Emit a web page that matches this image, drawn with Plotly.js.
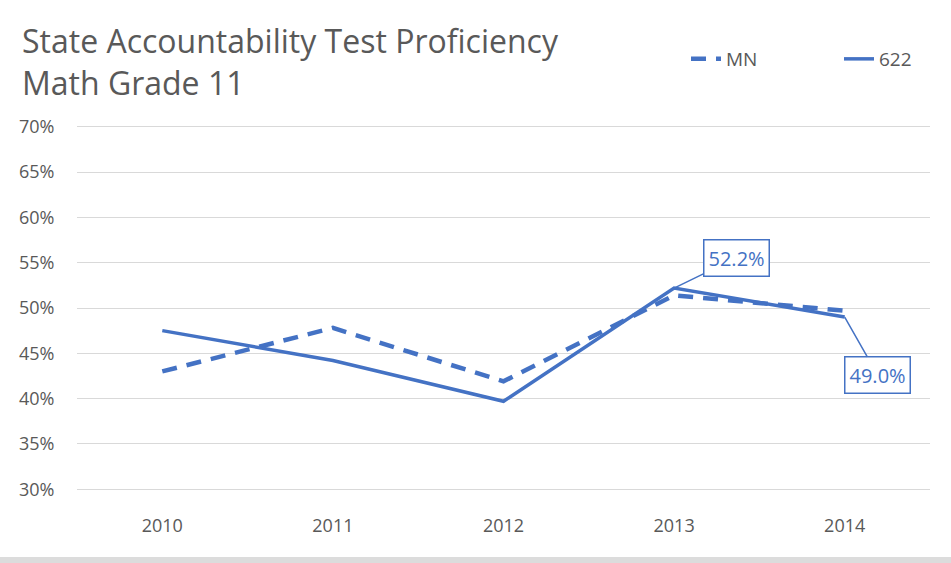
<!DOCTYPE html>
<html>
<head>
<meta charset="utf-8">
<script src="https://cdn.plot.ly/plotly-3.0.1.min.js"></script>
<style>
  html, body { margin:0; padding:0; background:#fff; }
  #chart { width:951px; height:557px; }
  #strip { width:951px; height:6px; background:#dcdcdc; }
</style>
</head>
<body>
<div id="chart"></div>
<div id="strip"></div>
<script>
// values
const years   = ['2010', '2011', '2012', '2013', '2014'];
const mnVals  = [0.430, 0.478, 0.419, 0.514, 0.497];
const distVals = [0.475, 0.442, 0.397, 0.522, 0.490];
const yTicks  = [0.30, 0.35, 0.40, 0.45, 0.50, 0.55, 0.60, 0.65, 0.70];

const BLUE = '#4472C4';
const GREY = '#595959';
const FONT = 'Open Sans, sans-serif';

const traces = [
  { x: years, y: mnVals, name: 'MN', type: 'scatter', mode: 'lines',
    line: { color: BLUE, width: 4.5, dash: '15px,10px' }, hoverinfo: 'skip' },
  { x: years, y: distVals, name: '622', type: 'scatter', mode: 'lines',
    line: { color: BLUE, width: 3.5 }, hoverinfo: 'skip' },
];

// data labels on the last two points of the district line (index, box offset)
const labelOffsets = [[3, 62, -30], [4, 33, 58]];
const annotations = labelOffsets.map(([i, ax, ay]) => ({
  x: i, y: distVals[i], xref: 'x', yref: 'y',
  text: (distVals[i] * 100).toFixed(1) + '%',
  showarrow: true, arrowhead: 0, arrowwidth: 1.5, arrowcolor: BLUE,
  ax, ay,
  font: { family: FONT, size: 20, color: BLUE },
  bordercolor: BLUE, borderwidth: 1.5, borderpad: 4, bgcolor: '#fff',
}));

const layout = {
  width: 951, height: 557,
  paper_bgcolor: '#fff', plot_bgcolor: '#fff',
  font: { family: FONT, color: GREY, size: 18 },
  margin: { l: 77, r: 21, t: 125, b: 66 },
  title: { text: 'State Accountability Test Proficiency<br>Math Grade 11',
           x: 22 / 951, xref: 'container', xanchor: 'left',
           y: 1 - 53 / 557, yref: 'container', yanchor: 'top',
           font: { family: FONT, size: 32, color: GREY } },
  showlegend: true,
  legend: { orientation: 'h', xref: 'container', yref: 'container',
            x: 686 / 951, xanchor: 'left', y: 1 - 40 / 557, yanchor: 'top',
            entrywidth: 108, entrywidthmode: 'pixels',
            font: { family: FONT, size: 19, color: GREY } },
  xaxis: { type: 'category', range: [-0.5, 4.5], showgrid: false, zeroline: false,
           showline: false, ticks: 'outside', ticklen: 18, tickcolor: 'rgba(0,0,0,0)',
           tickfont: { size: 18, color: GREY }, fixedrange: true },
  yaxis: { range: [0.298, 0.702], tickvals: yTicks, tickformat: '.0%',
           gridcolor: '#d9d9d9', gridwidth: 1, zeroline: false, showline: false,
           ticks: 'outside', ticklen: 18, tickcolor: 'rgba(0,0,0,0)',
           tickfont: { size: 18, color: GREY }, fixedrange: true },
  annotations,
};

Plotly.newPlot('chart', traces, layout, { displayModeBar: false, staticPlot: true });
</script>
</body>
</html>
